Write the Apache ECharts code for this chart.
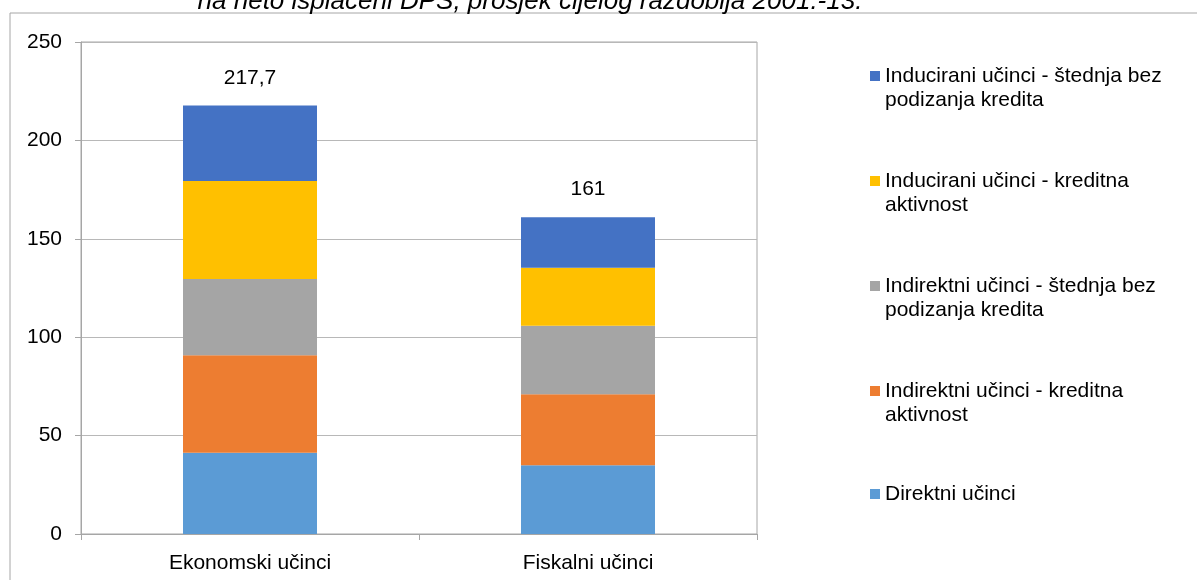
<!DOCTYPE html>
<html>
<head>
<meta charset="utf-8">
<script src="https://cdn.jsdelivr.net/npm/echarts@6/dist/echarts.min.js"></script>
<style>
  html, body { margin: 0; padding: 0; background: #fff; }
  #chart { width: 1197px; height: 580px; }
</style>
</head>
<body>
<div id="chart"></div>
<script>
// data
const categories = ['Ekonomski učinci', 'Fiskalni učinci'];
const totals = ['217,7', '161'];
const direktni = [41.3, 34.9];
const indirektniKredit = [49.5, 36.1];
const indirektniStednja = [38.8, 34.8];
const induciraniKredit = [49.8, 29.5];
const induciraniStednja = [38.3, 25.7];
const yTicks = [0, 50, 100, 150, 200, 250];

const seriesNames = [
  'Direktni učinci',
  'Indirektni učinci - kreditna aktivnost',
  'Indirektni učinci - štednja bez podizanja kredita',
  'Inducirani učinci - kreditna aktivnost',
  'Inducirani učinci - štednja bez podizanja kredita'
];
const seriesData = [direktni, indirektniKredit, indirektniStednja, induciraniKredit, induciraniStednja];
const colors = ['#5B9BD5', '#ED7D31', '#A5A5A5', '#FFC000', '#4472C4'];

const font = 'Liberation Sans, Arial, sans-serif';
const fs = 21;
let chart = echarts.init(document.getElementById('chart'));

// word wrap legend names at a pixel width
let ctx = document.createElement('canvas').getContext('2d');
ctx.font = fs + 'px ' + font;
function wrap (name, maxW) {
  let lines = [];
  let cur = '';
  name.split(' ').forEach(function (w) {
    let t = cur ? cur + ' ' + w : w;
    if (cur && ctx.measureText(t).width > maxW) {
      lines.push(cur);
      cur = w;
    } else {
      cur = t;
    }
  });
  lines.push(cur);
  return lines;
}

let series = seriesData.map(function (d, i) {
  let s = {
    name: seriesNames[i],
    type: 'bar',
    stack: 'total',
    barWidth: 134,
    data: d,
    itemStyle: { color: colors[i] }
  };
  if (i === seriesData.length - 1) {
    s.label = {
      show: true,
      position: 'top',
      distance: 17,
      color: '#000',
      fontSize: fs,
      fontFamily: font,
      formatter: function (p) { return totals[p.dataIndex]; }
    };
  }
  return s;
});

// legend top to bottom is the reverse of stack order
let legendData = seriesNames.slice().reverse().map(function (n) {
  let one = wrap(n, 300).length === 1;
  return {
    name: n,
    textStyle: { padding: one ? [22, 0, 22, 0] : 0 }
  };
});

chart.setOption({
  animation: false,
  backgroundColor: '#fff',
  color: colors,
  graphic: [{
    type: 'rect',
    shape: { x: 10, y: 13, width: 1300, height: 700 },
    style: { fill: 'none', stroke: '#a6a6a6', lineWidth: 1 },
    silent: true
  }, {
    type: 'text',
    x: 530,
    y: 15,
    style: {
      text: 'na neto isplaćeni DPS, prosjek cijelog razdoblja 2001.-13.',
      font: 'italic 26px ' + font,
      fill: '#000',
      align: 'center',
      verticalAlign: 'bottom'
    }
  }],
  grid: {
    left: 81,
    right: 440,
    top: 42,
    bottom: 46,
    show: true,
    borderColor: '#a6a6a6',
    borderWidth: 1
  },
  legend: {
    orient: 'vertical',
    left: 870,
    top: 40,
    padding: 0,
    itemWidth: 10,
    itemHeight: 10,
    itemGap: 33,
    icon: 'rect',
    selectedMode: false,
    data: legendData,
    // blank first line keeps the icon level with the first text line
    formatter: function (name) {
      let lines = wrap(name, 300);
      return lines.length > 1 ? '\n' + lines.join('\n') : lines[0];
    },
    textStyle: {
      fontSize: fs,
      fontFamily: font,
      color: '#000',
      lineHeight: 24
    }
  },
  xAxis: {
    type: 'category',
    data: categories,
    axisLine: { lineStyle: { color: '#a6a6a6' } },
    axisTick: { show: true, length: 6, lineStyle: { color: '#a6a6a6' } },
    axisLabel: { color: '#000', fontSize: fs, fontFamily: font, margin: 19 }
  },
  yAxis: {
    type: 'value',
    min: yTicks[0],
    max: yTicks[yTicks.length - 1],
    interval: 50,
    axisLine: { show: true, lineStyle: { color: '#a6a6a6' } },
    axisTick: { show: true, length: 6, lineStyle: { color: '#a6a6a6' } },
    axisLabel: { color: '#000', fontSize: fs, fontFamily: font, margin: 19 },
    splitLine: { lineStyle: { color: '#b8b8b8' } }
  },
  series: series
});
</script>
</body>
</html>
